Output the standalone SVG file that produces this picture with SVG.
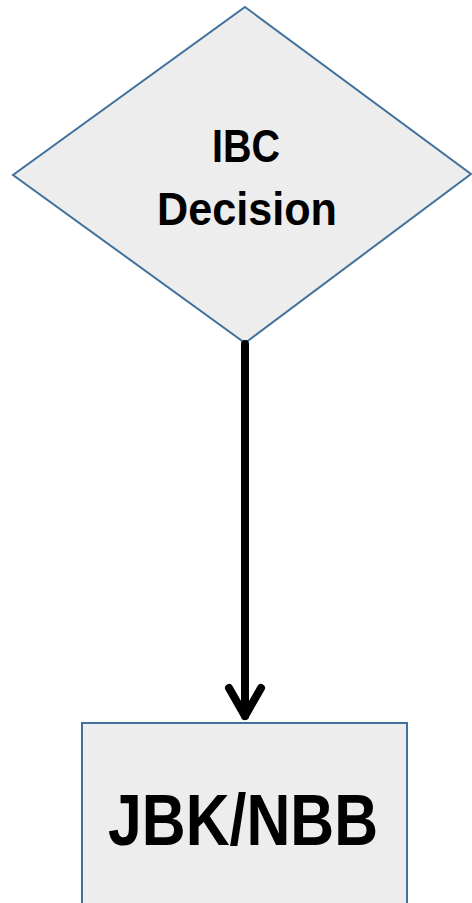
<svg xmlns="http://www.w3.org/2000/svg" width="472" height="903" viewBox="0 0 472 903">
<style>
.shape{fill:#EDEDED;stroke:#41719C;stroke-width:2}
.lbl{font-family:"Liberation Sans",Arial,sans-serif;font-weight:bold;fill:#000;text-anchor:middle}
.conn{stroke:#000;stroke-width:8;fill:none;stroke-linecap:round;stroke-linejoin:round}
</style>
<rect width="472" height="903" fill="#FFFFFF"/>
<g id="ibc-decision">
<polygon class="shape" points="245,7 471,174 245,343 13,175"/>
<text class="lbl" x="246" y="162" font-size="47" textLength="68" lengthAdjust="spacingAndGlyphs">IBC</text>
<text class="lbl" x="247" y="225" font-size="46" textLength="180" lengthAdjust="spacingAndGlyphs">Decision</text>
</g>
<g id="jbk-nbb">
<rect class="shape" x="82" y="723" width="325" height="190"/>
<text class="lbl" x="243" y="845" font-size="72" textLength="270" lengthAdjust="spacingAndGlyphs">JBK/NBB</text>
</g>
<g id="connectors">
<line class="conn" x1="245" y1="344" x2="245" y2="716" stroke-linecap="butt"/>
<polyline class="conn" points="229,688 245,716 261,688"/>
</g>
</svg>
